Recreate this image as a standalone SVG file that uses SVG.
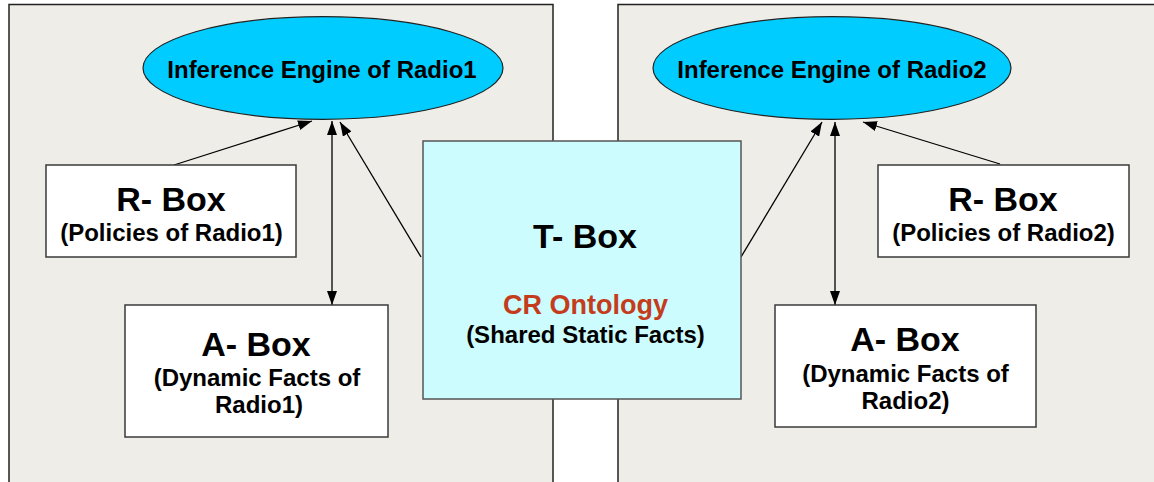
<svg xmlns="http://www.w3.org/2000/svg" width="1154" height="482" viewBox="0 0 1154 482">
<style>
  text { font-family: "Liberation Sans", Arial, Helvetica, sans-serif; font-weight: bold; text-anchor: middle; fill: #000; }
  .panel { fill: #EEEDE7; stroke: #222; stroke-width: 1.5; }
  .engine { fill: #00CCFF; stroke: #222; stroke-width: 1.2; }
  .box { fill: #FFFFFF; stroke: #3a3a3a; stroke-width: 1.5; }
  .tbox { fill: #CCFCFD; stroke: #555; stroke-width: 1.5; }
  .big { font-size: 34px; }
  .sub { font-size: 24px; }
  .eng { font-size: 24px; }
  .onto { font-size: 27px; fill: #C43C1C; }
  .conn { stroke: #000; stroke-width: 1.3; fill: none; }
</style>
<defs>
  <marker id="arrow" viewBox="0 0 14 10" refX="14" refY="5" markerWidth="14" markerHeight="10" markerUnits="userSpaceOnUse" orient="auto-start-reverse">
    <path d="M0,0 L14,5 L0,10 z" fill="#000"/>
  </marker>
</defs>
<rect x="0" y="0" width="1154" height="482" fill="#FFFFFF"/>
<g id="panel-radio1"><rect class="panel" x="9" y="4.5" width="544" height="500"/></g>
<g id="panel-radio2"><rect class="panel" x="618" y="4.5" width="560" height="500"/></g>

<g id="connectors">
  <line class="conn" x1="174" y1="165" x2="312" y2="121" marker-end="url(#arrow)"/>
  <line class="conn" x1="332" y1="121" x2="332" y2="305" marker-start="url(#arrow)" marker-end="url(#arrow)"/>
  <line class="conn" x1="421" y1="257" x2="340" y2="122" marker-end="url(#arrow)"/>
  <line class="conn" x1="741" y1="257" x2="822" y2="122" marker-end="url(#arrow)"/>
  <line class="conn" x1="835" y1="122" x2="835" y2="305" marker-start="url(#arrow)" marker-end="url(#arrow)"/>
  <line class="conn" x1="1000" y1="164" x2="863" y2="122" marker-end="url(#arrow)"/>
</g>

<g id="engine-radio1">
  <ellipse class="engine" cx="323" cy="68" rx="180" ry="51.3"/>
  <text class="eng" x="322" y="78">Inference Engine of Radio1</text>
</g>
<g id="engine-radio2">
  <ellipse class="engine" cx="832" cy="68" rx="179" ry="51.3"/>
  <text class="eng" x="832" y="78">Inference Engine of Radio2</text>
</g>

<g id="rbox-radio1">
  <rect class="box" x="46" y="165" width="250" height="92"/>
  <text class="big" x="171" y="211">R- Box</text>
  <text class="sub" x="171.5" y="241">(Policies of Radio1)</text>
</g>
<g id="abox-radio1">
  <rect class="box" x="125" y="305" width="263" height="132"/>
  <text class="big" x="256" y="356">A- Box</text>
  <text class="sub" x="257" y="386">(Dynamic Facts of</text>
  <text class="sub" x="259" y="413">Radio1)</text>
</g>

<g id="tbox">
  <rect class="tbox" x="423" y="141" width="318" height="258"/>
  <text class="big" x="585" y="248">T- Box</text>
  <text class="onto" x="585.5" y="314">CR Ontology</text>
  <text class="sub" x="585.5" y="343">(Shared Static Facts)</text>
</g>

<g id="rbox-radio2">
  <rect class="box" x="878" y="165" width="251" height="92"/>
  <text class="big" x="1003" y="211">R- Box</text>
  <text class="sub" x="1003.5" y="241">(Policies of Radio2)</text>
</g>
<g id="abox-radio2">
  <rect class="box" x="775" y="305" width="261" height="122"/>
  <text class="big" x="905" y="351">A- Box</text>
  <text class="sub" x="905.5" y="382">(Dynamic Facts of</text>
  <text class="sub" x="905.5" y="409">Radio2)</text>
</g>
</svg>
